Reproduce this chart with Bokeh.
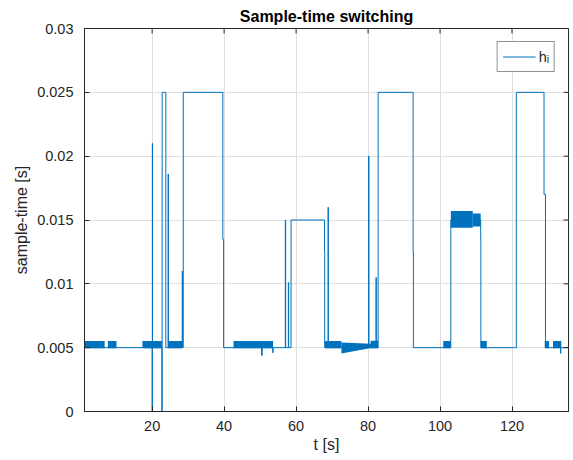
import numpy as np
from bokeh.plotting import figure
from bokeh.models import (LinearAxis, FixedTicker, Range1d, Legend, LegendItem)
from bokeh.embed import file_html
from bokeh.resources import INLINE

# ---- main sample-time trace (step vertices: t [s], h [s]) ----
t_trace = [1.2, 20.0, 20.0, 20.05, 20.05, 20.1, 20.1,
           22.7, 22.7, 22.78, 22.78, 23.8, 23.8,
           24.45, 24.45, 24.5, 24.5,
           28.37, 28.37, 28.42, 28.42,
           28.65, 28.65, 39.64, 39.64, 39.85, 39.85,
           50.4, 50.4, 50.6, 50.6,
           53.5, 53.5, 53.6, 53.6,
           57.0, 57.0, 57.1, 57.1,
           57.85, 57.85, 57.95, 57.95,
           58.6, 58.6, 67.9, 67.9, 67.95, 67.95,
           68.9, 68.9, 68.95, 68.95,
           80.15, 80.15, 80.25, 80.25,
           82.2, 82.2, 82.3, 82.3,
           82.8, 82.8, 92.52, 92.52, 92.6, 92.6,
           103.0, 103.0, 111.3, 111.3, 111.35, 111.35,
           121.2, 121.2, 128.9, 128.9, 129.3, 129.3,
           133.5, 133.5, 133.55, 133.55,
           135.7]
h_trace = [0.005, 0.005, 0.0, 0.0, 0.021, 0.021, 0.005,
           0.005, 0.0, 0.0, 0.025, 0.025, 0.005,
           0.005, 0.0186, 0.0186, 0.005,
           0.005, 0.011, 0.011, 0.005,
           0.005, 0.025, 0.025, 0.0135, 0.0135, 0.005,
           0.005, 0.0044, 0.0044, 0.005,
           0.005, 0.0046, 0.0046, 0.005,
           0.005, 0.015, 0.015, 0.005,
           0.005, 0.0101, 0.0101, 0.005,
           0.005, 0.015, 0.015, 0.0125, 0.0125, 0.005,
           0.005, 0.016, 0.016, 0.005,
           0.005, 0.020, 0.020, 0.005,
           0.005, 0.0105, 0.0105, 0.005,
           0.005, 0.025, 0.025, 0.0125, 0.0125, 0.005,
           0.005, 0.015, 0.015, 0.0135, 0.0135, 0.005,
           0.005, 0.025, 0.025, 0.017, 0.017, 0.005,
           0.005, 0.00455, 0.00455, 0.005,
           0.005]

# ---- dense switching (chattering) bands ----
band_t0 = [1.2, 7.7, 17.3, 24.5, 42.6, 68.0, 80.7, 100.9, 103.0, 109.1, 111.3, 129.1, 131.4]
band_t1 = [6.8, 10.1, 22.7, 28.4, 53.6, 72.6, 82.8, 103.0, 109.1, 111.3, 113.0, 130.3, 133.7]
band_lo = [0.00496, 0.00496, 0.00496, 0.00496, 0.00496, 0.00496, 0.00496, 0.00496,
           0.0144, 0.0145, 0.00496, 0.00496, 0.00496]
band_hi = [0.00553, 0.00553, 0.00553, 0.00553, 0.00553, 0.00553, 0.00555, 0.00553,
           0.0157, 0.0155, 0.00553, 0.00553, 0.00553]

# drifting band between ~72.6 s and ~80.8 s
wedge_t = [72.6, 80.8]
wedge_lo = [0.00455, 0.00497]
wedge_hi = [0.0054, 0.0053]

x_ticks = [20, 40, 60, 80, 100, 120]
x_tick_labels = ["20", "40", "60", "80", "100", "120"]
y_ticks = [0, 0.005, 0.01, 0.015, 0.02, 0.025, 0.03]
y_tick_labels = ["0", "0.005", "0.01", "0.015", "0.02", "0.025", "0.03"]

TITLE = "Sample-time switching"
BLUE = "#0072BD"
AX = "#262626"
FONT = "Liberation Sans"

x_lo, x_hi = 1.2, 135.7
y_lo, y_hi = 0.0, 0.03

p = figure(width=572, height=460, output_backend="svg", toolbar_location=None,
           x_range=Range1d(x_lo, x_hi), y_range=Range1d(y_lo, y_hi),
           x_axis_location=None, y_axis_location=None,
           min_border_left=84, min_border_right=4, min_border_top=28, min_border_bottom=49,
           background_fill_color="white", border_fill_color="white")
p.outline_line_color = AX
p.outline_line_alpha = 1

p.title.text = TITLE
p.title.align = "center"
p.title.text_font = FONT
p.title.text_font_size = "16px"
p.title.text_font_style = "bold"
p.title.text_color = "#000000"
p.title.standoff = 8


def make_axis(ticks, labels):
    ax = LinearAxis(ticker=FixedTicker(ticks=ticks))
    ax.major_label_overrides = {tk: lb for tk, lb in zip(ticks, labels)}
    ax.major_tick_in = 5
    ax.major_tick_out = 0
    ax.minor_tick_in = 0
    ax.minor_tick_out = 0
    ax.axis_line_color = AX
    ax.major_tick_line_color = AX
    ax.major_label_text_color = AX
    ax.major_label_text_font = FONT
    ax.major_label_text_font_size = "14.5px"
    ax.axis_label_text_font = FONT
    ax.axis_label_text_font_size = "16px"
    ax.axis_label_text_font_style = "normal"
    ax.axis_label_text_color = AX
    return ax


xb = make_axis(x_ticks, x_tick_labels)
xb.axis_label = "t [s]"
xb.major_label_standoff = 9
xb.axis_label_standoff = 2
p.add_layout(xb, "below")

yl = make_axis(y_ticks, y_tick_labels)
yl.axis_label = "sample-time [s]"
yl.major_label_standoff = 11
yl.axis_label_standoff = 4
p.add_layout(yl, "left")

p.xgrid.ticker = FixedTicker(ticks=x_ticks)
p.ygrid.ticker = FixedTicker(ticks=y_ticks)
for g in (p.xgrid, p.ygrid):
    g.grid_line_color = "#dfdfdf"
    g.grid_line_width = 1

p.quad(left=band_t0, right=band_t1, bottom=band_lo, top=band_hi,
       fill_color=BLUE, line_color=None)
p.varea(x=wedge_t, y1=wedge_lo, y2=wedge_hi, fill_color=BLUE)
line = p.line(t_trace, h_trace, line_color=BLUE, line_width=1)

# inward tick marks on the top and right edges of the box
p.ray(x=x_ticks, y=[y_hi] * len(x_ticks), length=5, length_units="screen",
      angle=-np.pi / 2, line_color=AX, line_width=1)
p.ray(x=[x_hi] * len(y_ticks), y=y_ticks, length=5, length_units="screen",
      angle=np.pi, line_color=AX, line_width=1)

legend = Legend(items=[LegendItem(label="h\u1d62", renderers=[line])],
                location="top_right")
legend.border_line_color = AX
legend.border_line_width = 1
legend.background_fill_color = "white"
legend.background_fill_alpha = 1
legend.label_text_font = FONT
legend.label_text_font_size = "14.5px"
legend.label_text_color = AX
legend.glyph_width = 33
legend.glyph_height = 19
legend.label_height = 19
legend.label_width = 10
legend.label_standoff = 3
legend.padding = 5
legend.spacing = 0
legend.margin = 13
p.add_layout(legend)

open("out.html", "w").write(file_html(p, INLINE))
